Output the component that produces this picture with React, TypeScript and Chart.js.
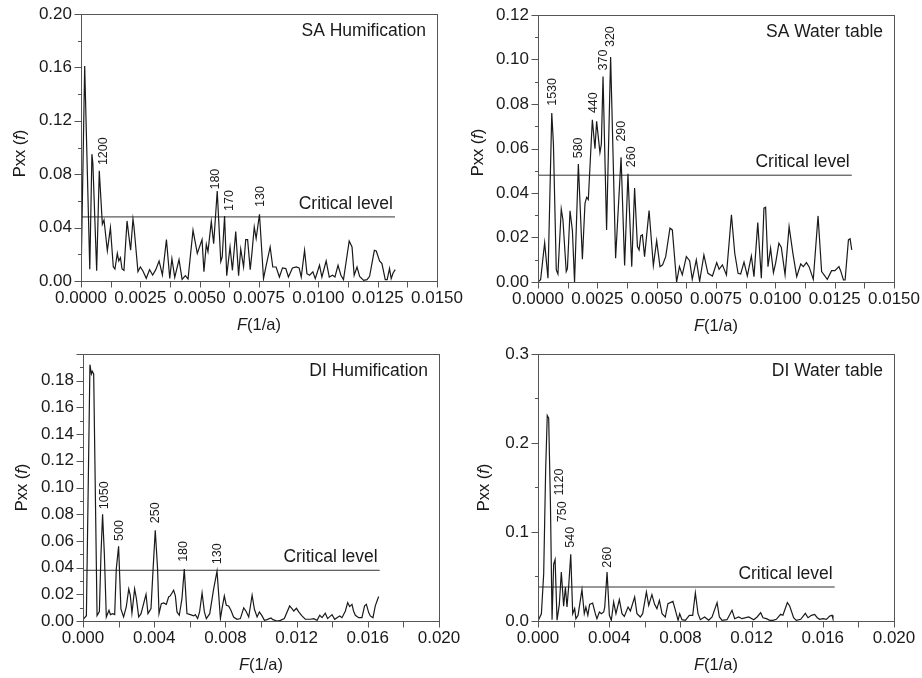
import React, { useEffect, useRef } from "react";
import { Chart, registerables } from "chart.js";

Chart.register(...registerables);

const FONT = "'Liberation Sans', Arial, Helvetica, sans-serif";

// ---------------- SA Humification ----------------
const saHumFreq = [
  0, 0.000155, 0.00037, 0.00046, 0.0005, 0.00066, 0.00077, 0.0009, 0.00097, 0.00111,
  0.00124, 0.00136, 0.00143, 0.00153, 0.00159, 0.00166, 0.00173, 0.00181, 0.00194, 0.00209,
  0.00219, 0.00223, 0.0024, 0.0025, 0.00261, 0.00275, 0.00289, 0.00302, 0.00315, 0.00329,
  0.00343, 0.0036, 0.00374, 0.00383, 0.00395, 0.00413, 0.00426, 0.0044, 0.00451, 0.00472,
  0.0049, 0.0051, 0.00518, 0.00528, 0.00535, 0.00549, 0.00559, 0.00574, 0.00589, 0.00595,
  0.00605, 0.00614, 0.00628, 0.00638, 0.00652, 0.00664, 0.00673, 0.00685, 0.00694, 0.00702,
  0.00713, 0.0072, 0.0073, 0.00738, 0.00752, 0.00769, 0.00779, 0.00797, 0.00808, 0.00822,
  0.00836, 0.00849, 0.00863, 0.00874, 0.00891, 0.00907, 0.00919, 0.00928, 0.00942, 0.00952,
  0.00963, 0.00977, 0.00987, 0.01005, 0.01015, 0.01033, 0.01046, 0.0106, 0.0107, 0.01083,
  0.01095, 0.01106, 0.0113, 0.01142, 0.01151, 0.01163, 0.01174, 0.01191, 0.01205, 0.01216,
  0.01236, 0.01244, 0.01258, 0.01268, 0.01282, 0.0129, 0.013, 0.01307, 0.01315, 0.01324,
];
const saHumPower = [
  0, 0.161, 0.0088, 0.095, 0.088, 0.0077, 0.0826, 0.0425, 0.0457, 0.0227,
  0.04, 0.0107, 0.009, 0.0207, 0.015, 0.0175, 0.009, 0.008, 0.045, 0.023,
  0.0464, 0.041, 0.007, 0.0105, 0.0075, 0.002, 0.0085, 0.0045, 0.0085, 0.015,
  0.0045, 0.031, 0.002, 0.0167, 0.0027, 0.016, 0.0012, 0.004, 0.0015, 0.038,
  0.0207, 0.031, 0.007, 0.0275, 0.022, 0.0445, 0.028, 0.0674, 0.0145, 0.018,
  0.0487, 0.004, 0.0255, 0.008, 0.037, 0.004, 0.024, 0.0105, 0.031, 0.031,
  0.0085, 0.0205, 0.0405, 0.0318, 0.05, 0.0018, 0.0105, 0.0255, 0.0105, 0.0105,
  0.003, 0.0098, 0.0093, 0.003, 0.0098, 0.0105, 0.0098, 0.003, 0.023, 0.0055,
  0.0043, 0.0068, 0.0018, 0.0118, 0.003, 0.015, 0.003, 0.0043, 0.003, 0.0118,
  0.0043, 0.001, 0.03, 0.0255, 0.0043, 0.0105, 0.0035, 0.0005, 0.001, 0.0035,
  0.023, 0.0225, 0.015, 0.013, 0.001, 0.001, 0.0093, 0.0018, 0.006, 0.0085,
];
const saHumPeakLabels = ["1200", "180", "170", "130"];
const saHumPeakFreq = [0.00094, 0.00569, 0.00624, 0.00755];
const saHumPeakPower = [0.0868, 0.0685, 0.0525, 0.0555];

// ---------------- SA Water table ----------------
const saWtFreq = [
  0, 0.00011, 0.00028, 0.00042, 0.00058, 0.00065, 0.00077, 0.00084, 0.00098, 0.00105,
  0.00119, 0.00124, 0.00135, 0.00145, 0.00154, 0.0017, 0.00187, 0.00198, 0.00205, 0.00212,
  0.00229, 0.0024, 0.00247, 0.00261, 0.00267, 0.00274, 0.00278, 0.00289, 0.00306, 0.00327,
  0.0035, 0.00365, 0.00379, 0.00395, 0.00407, 0.00419, 0.00426, 0.00433, 0.0044, 0.00449,
  0.00468, 0.00486, 0.005, 0.00514, 0.00525, 0.00538, 0.00556, 0.00566, 0.00584, 0.00596,
  0.00608, 0.00625, 0.00639, 0.0065, 0.00667, 0.00681, 0.00699, 0.00716, 0.00735, 0.00753,
  0.00763, 0.00777, 0.00794, 0.00815, 0.00829, 0.00843, 0.00854, 0.00868, 0.00882, 0.00899,
  0.0091, 0.00926, 0.00941, 0.00952, 0.00959, 0.00969, 0.0098, 0.00992, 0.01001, 0.01015,
  0.01025, 0.01041, 0.01058, 0.01074, 0.0109, 0.01107, 0.01118, 0.01131, 0.01142, 0.0116,
  0.0118, 0.01195, 0.01219, 0.01237, 0.01251, 0.01268, 0.01275, 0.01287, 0.01294, 0.01308,
  0.01315, 0.01322,
];
const saWtPower = [
  0, 0.001, 0.0177, 0.0017, 0.0759, 0.062, 0.0054, 0.0036, 0.0328, 0.028,
  0.0047, 0.006, 0.032, 0.023, 0.0, 0.053, 0.0102, 0.0354, 0.038, 0.037,
  0.0729, 0.0599, 0.0722, 0.0582, 0.062, 0.0924, 0.0924, 0.0234, 0.1011, 0.0107,
  0.0561, 0.0074, 0.0486, 0.0069, 0.0422, 0.0159, 0.0144, 0.0207, 0.0212, 0.0114,
  0.0321, 0.0074, 0.0186, 0.0069, 0.0077, 0.0114, 0.0242, 0.0234, 0.0, 0.0069,
  0.0032, 0.0114, 0.0096, 0.0012, 0.0099, 0.0003, 0.0122, 0.0039, 0.0027, 0.0087,
  0.0057, 0.0077, 0.0032, 0.0302, 0.0129, 0.0039, 0.0036, 0.0089, 0.0027, 0.0117,
  0.0024, 0.0267, 0.0017, 0.0332, 0.0336, 0.0069, 0.0152, 0.0042, 0.0084, 0.0174,
  0.0156, 0.0032, 0.0249, 0.0129, 0.0024, 0.0081, 0.0069, 0.0087, 0.0069, 0.0012,
  0.0297, 0.0047, 0.0012, 0.0051, 0.0051, 0.0069, 0.0051, 0.0009, 0.0009, 0.0189,
  0.0194, 0.0144,
];
const saWtPeakLabels = ["1530", "580", "440", "370", "320", "290", "260"];
const saWtPeakFreq = [0.0006, 0.0017, 0.00232, 0.00275, 0.00306, 0.00351, 0.00393];
const saWtPeakPower = [0.0792, 0.0556, 0.0759, 0.0951, 0.1056, 0.0631, 0.0516];

// ---------------- DI Humification ----------------
const diHumFreq = [
  0, 0.00019, 0.00039, 0.00047, 0.00052, 0.0006, 0.00079, 0.00092, 0.00101, 0.0011,
  0.0012, 0.00131, 0.00146, 0.00154, 0.00167, 0.00178, 0.00187, 0.002, 0.00213, 0.00228,
  0.00243, 0.00257, 0.00266, 0.00275, 0.0029, 0.003, 0.00313, 0.00326, 0.00354, 0.00365,
  0.00382, 0.00393, 0.00406, 0.00419, 0.00427, 0.0044, 0.00453, 0.00468, 0.00481, 0.0049,
  0.005, 0.00509, 0.00519, 0.00528, 0.00541, 0.00556, 0.00569, 0.00584, 0.00603, 0.00622,
  0.00631, 0.00644, 0.00655, 0.00669, 0.00682, 0.00693, 0.00712, 0.00734, 0.00753, 0.00772,
  0.00781, 0.00794, 0.00805, 0.00818, 0.00831, 0.00846, 0.00865, 0.00884, 0.00903, 0.00916,
  0.00931, 0.0095, 0.00963, 0.00978, 0.00991, 0.01006, 0.01019, 0.01034, 0.01056, 0.01067,
  0.0109, 0.01109, 0.01131, 0.01161, 0.01174, 0.01184, 0.01199, 0.01212, 0.0123, 0.01249,
  0.01277, 0.01296, 0.01315, 0.0133, 0.01343, 0.01361, 0.01374, 0.01399, 0.01414, 0.01427,
  0.01442, 0.01455, 0.01474, 0.01487, 0.01498, 0.01511, 0.0152, 0.0153, 0.01549, 0.01567,
  0.01582, 0.01592, 0.01605, 0.01614, 0.01629, 0.01642, 0.01661,
];
const diHumPower = [
  0.001, 0.004, 0.192, 0.185, 0.187, 0.185, 0.004, 0.007, 0.05, 0.08,
  0.05, 0.003, 0.008, 0.0048, 0.0055, 0.0048, 0.039, 0.056, 0.009, 0.003,
  0.0105, 0.024, 0.019, 0.006, 0.024, 0.0168, 0.003, 0.0055, 0.02, 0.0055,
  0.0093, 0.037, 0.068, 0.039, 0.0055, 0.013, 0.0135, 0.0125, 0.018, 0.0188,
  0.021, 0.023, 0.0188, 0.0068, 0.0043, 0.0168, 0.039, 0.0055, 0.0048, 0.0038,
  0.0048, 0.0018, 0.0068, 0.021, 0.0068, 0.0018, 0.0055, 0.024, 0.0373, 0.0018,
  0.0093, 0.0188, 0.0118, 0.0113, 0.008, 0.003, 0.0013, 0.0018, 0.0098, 0.0073,
  0.003, 0.0193, 0.0088, 0.003, 0.0068, 0.0038, 0.0005, 0.001, 0.0023, 0.001,
  0.0, 0.0005, 0.0018, 0.0113, 0.0093, 0.0075, 0.0095, 0.0068, 0.0038, 0.0013,
  0.0013, 0.0018, 0.0005, 0.0043, 0.0025, 0.0058, 0.0018, 0.0048, 0.0013, 0.0025,
  0.0038, 0.0025, 0.0075, 0.0138, 0.0108, 0.0125, 0.0075, 0.0043, 0.0025, 0.0025,
  0.0113, 0.0125, 0.0063, 0.0038, 0.0025, 0.0113, 0.0183,
];
const diHumPeakLabels = ["1050", "500", "250", "180", "130"];
const diHumPeakFreq = [0.00122, 0.00204, 0.00406, 0.00566, 0.00757];
const diHumPeakPower = [0.0838, 0.06, 0.0733, 0.0443, 0.0425];

// ---------------- DI Water table ----------------
const diWtFreq = [
  0, 0.00019, 0.00032, 0.00043, 0.00052, 0.0006, 0.0007, 0.00079, 0.00088, 0.00096,
  0.00107, 0.0012, 0.00131, 0.00144, 0.00154, 0.00163, 0.00172, 0.00184, 0.00195, 0.00206,
  0.00213, 0.00225, 0.00247, 0.0026, 0.00269, 0.0028, 0.0029, 0.00307, 0.00322, 0.00331,
  0.00345, 0.00356, 0.00369, 0.00375, 0.00388, 0.00401, 0.00412, 0.00425, 0.00438, 0.00457,
  0.00472, 0.00485, 0.00506, 0.00519, 0.00543, 0.00556, 0.00575, 0.00588, 0.00609, 0.00622,
  0.0064, 0.00655, 0.00668, 0.00682, 0.00697, 0.00715, 0.0073, 0.00758, 0.00772, 0.00787,
  0.00796, 0.00809, 0.00828, 0.0085, 0.00869, 0.00884, 0.00899, 0.00912, 0.00936, 0.00959,
  0.00978, 0.01006, 0.01019, 0.01034, 0.01062, 0.0109, 0.01105, 0.01127, 0.01146, 0.01184,
  0.01212, 0.01231, 0.01251, 0.01264, 0.01283, 0.01302, 0.0132, 0.01339, 0.01363, 0.01376,
  0.01401, 0.01414, 0.01436, 0.01451, 0.01476, 0.01502, 0.01517, 0.01536, 0.01554, 0.01569,
  0.01582, 0.01601, 0.0162, 0.01639, 0.01652, 0.01657,
];
const diWtPower = [
  0, 0.008, 0.053, 0.17, 0.231, 0.228, 0.13, 0.0015, 0.064, 0.069,
  0.0008, 0.019, 0.055, 0.0165, 0.038, 0.0157, 0.038, 0.075, 0.0082, 0.014,
  0.0026, 0.0064, 0.0352, 0.0082, 0.0157, 0.0064, 0.0187, 0.0202, 0.0082, 0.0026,
  0.0101, 0.0082, 0.0101, 0.0157, 0.055, 0.0064, 0.0008, 0.0213, 0.0082, 0.024,
  0.0082, 0.0052, 0.0157, 0.0112, 0.027, 0.0082, 0.0045, 0.0082, 0.0326, 0.0176,
  0.0296, 0.0187, 0.0139, 0.0232, 0.0082, 0.0045, 0.0195, 0.0221, 0.012, 0.0008,
  0.0082, 0.0015, 0.0008, 0.0064, 0.0064, 0.0315, 0.0082, 0.0015, 0.0045, 0.0008,
  0.0045, 0.0206, 0.0045, 0.0008, 0.0015, 0.012, 0.0026, 0.0045, 0.0026, 0.0045,
  0.0015, 0.0045, 0.0094, 0.0037, 0.0026, 0.0007, 0.0007, 0.0019, 0.0075, 0.0064,
  0.0206, 0.0169, 0.0037, 0.0007, 0.0019, 0.0086, 0.0037, 0.0064, 0.0075, 0.0037,
  0.0019, 0.0026, 0.0019, 0.0056, 0.0064, 0.0026,
];
const diWtPeakLabels = ["1120", "750", "540", "260"];
const diWtPeakFreq = [0.00122, 0.0014, 0.00182, 0.00388];
const diWtPeakPower = [0.141, 0.111, 0.0824, 0.0599];

// Critical levels [level, last frequency of the line]
const criticalLevels = [0.048, 0.048, 0.038, 0.0382];
const criticalEnds = [0.01323, 0.01322, 0.01667, 0.01667];
const panelTitles = ["SA Humification", "SA Water table", "DI Humification", "DI Water table"];

type PanelSpec = {
  x: number; y: number; w: number; h: number;
  axisLeft: number; axisBottom: number; padTop: number; padRight: number;
  xMax: number; xStep: number; xMinor: number; xDec: number;
  yMax: number; yStep: number; yMinor: number; yDec: number; hideTop: boolean;
  yTitleOffset: number; yTitleShift: number;
  freq: number[]; power: number[];
  labels: string[]; labelFreq: number[]; labelPower: number[];
  crit: number; critEnd: number; title: string;
};

const panels: PanelSpec[] = [
  {
    x: 0, y: 0, w: 472, h: 339, axisLeft: 81, axisBottom: 58, padTop: 14, padRight: 35,
    xMax: 0.015, xStep: 0.0025, xMinor: 0.00125, xDec: 4,
    yMax: 0.2, yStep: 0.04, yMinor: 0.02, yDec: 2, hideTop: false,
    yTitleOffset: 56, yTitleShift: 6,
    freq: saHumFreq, power: saHumPower,
    labels: saHumPeakLabels, labelFreq: saHumPeakFreq, labelPower: saHumPeakPower,
    crit: criticalLevels[0], critEnd: criticalEnds[0], title: panelTitles[0],
  },
  {
    x: 461, y: 0, w: 461, h: 339, axisLeft: 77, axisBottom: 57, padTop: 15, padRight: 28,
    xMax: 0.015, xStep: 0.0025, xMinor: 0.00125, xDec: 4,
    yMax: 0.12, yStep: 0.02, yMinor: 0.01, yDec: 2, hideTop: false,
    yTitleOffset: 55, yTitleShift: 4,
    freq: saWtFreq, power: saWtPower,
    labels: saWtPeakLabels, labelFreq: saWtPeakFreq, labelPower: saWtPeakPower,
    crit: criticalLevels[1], critEnd: criticalEnds[1], title: panelTitles[1],
  },
  {
    x: 0, y: 339, w: 472, h: 339, axisLeft: 83, axisBottom: 57, padTop: 15, padRight: 33,
    xMax: 0.02, xStep: 0.004, xMinor: 0.002, xDec: 3,
    yMax: 0.2, yStep: 0.02, yMinor: 0.01, yDec: 2, hideTop: true,
    yTitleOffset: 56, yTitleShift: 0,
    freq: diHumFreq, power: diHumPower,
    labels: diHumPeakLabels, labelFreq: diHumPeakFreq, labelPower: diHumPeakPower,
    crit: criticalLevels[2], critEnd: criticalEnds[2], title: panelTitles[2],
  },
  {
    x: 461, y: 339, w: 461, h: 339, axisLeft: 77, axisBottom: 57, padTop: 15, padRight: 28,
    xMax: 0.02, xStep: 0.004, xMinor: 0.002, xDec: 3,
    yMax: 0.3, yStep: 0.1, yMinor: 0.05, yDec: 1, hideTop: false,
    yTitleOffset: 49, yTitleShift: 0,
    freq: diWtFreq, power: diWtPower,
    labels: diWtPeakLabels, labelFreq: diWtPeakFreq, labelPower: diWtPeakPower,
    crit: criticalLevels[3], critEnd: criticalEnds[3], title: panelTitles[3],
  },
];

function drawParts(ctx: CanvasRenderingContext2D, parts: [string, boolean][], size: number) {
  let total = 0;
  for (const [t, it] of parts) {
    ctx.font = `${it ? "italic " : ""}${size}px ${FONT}`;
    total += ctx.measureText(t).width;
  }
  let cx = -total / 2;
  for (const [t, it] of parts) {
    ctx.font = `${it ? "italic " : ""}${size}px ${FONT}`;
    ctx.fillText(t, cx, 0);
    cx += ctx.measureText(t).width;
  }
}

function makeDecor(p: PanelSpec) {
  return {
    id: "decor",
    afterDraw(chart: any) {
      const ctx: CanvasRenderingContext2D = chart.ctx;
      const { left, right, top, bottom } = chart.chartArea;
      const xs = chart.scales.x;
      const ys = chart.scales.y;
      ctx.save();
      // frame
      ctx.strokeStyle = "#555";
      ctx.lineWidth = 1;
      ctx.strokeRect(Math.round(left) + 0.5, Math.round(top) + 0.5, Math.round(right - left), Math.round(bottom - top));
      // x ticks
      ctx.beginPath();
      const nx = Math.round(p.xMax / p.xMinor);
      for (let i = 0; i <= nx; i++) {
        const px = Math.round(xs.getPixelForValue(i * p.xMinor)) + 0.5;
        ctx.moveTo(px, Math.round(bottom) + 0.5);
        ctx.lineTo(px, Math.round(bottom) + 6.5);
      }
      // y ticks
      const ny = Math.round(p.yMax / p.yMinor);
      const ratio = Math.round(p.yStep / p.yMinor);
      for (let i = 0; i <= ny; i++) {
        const py = Math.round(ys.getPixelForValue(i * p.yMinor)) + 0.5;
        const len = i % ratio === 0 ? 7 : 3.5;
        ctx.moveTo(Math.round(left) + 0.5, py);
        ctx.lineTo(Math.round(left) + 0.5 - len, py);
      }
      ctx.stroke();

      ctx.fillStyle = "#1a1a1a";
      // panel title
      ctx.font = `17.5px ${FONT}`;
      ctx.textAlign = "right";
      ctx.textBaseline = "alphabetic";
      ctx.fillText(p.title, right - 11, top + 22);
      // critical level text
      ctx.fillText("Critical level", xs.getPixelForValue(p.critEnd) - 2, ys.getPixelForValue(p.crit) - 8);
      // peak labels
      ctx.font = `12.5px ${FONT}`;
      ctx.textAlign = "left";
      ctx.textBaseline = "middle";
      p.labels.forEach((lab, i) => {
        ctx.save();
        ctx.translate(xs.getPixelForValue(p.labelFreq[i]), ys.getPixelForValue(p.labelPower[i]));
        ctx.rotate(-Math.PI / 2);
        ctx.fillText(lab, 0, 0);
        ctx.restore();
      });
      // axis titles
      ctx.textAlign = "left";
      ctx.textBaseline = "alphabetic";
      ctx.save();
      ctx.translate((left + right) / 2, bottom + 49);
      drawParts(ctx, [["F", true], ["(1/a)", false]], 16.5);
      ctx.restore();
      ctx.save();
      ctx.translate(left - p.yTitleOffset, (top + bottom) / 2 + p.yTitleShift);
      ctx.rotate(-Math.PI / 2);
      drawParts(ctx, [["Pxx (", false], ["f", true], [")", false]], 16.5);
      ctx.restore();
      ctx.restore();
    },
  };
}

function SpectrumPanel({ p }: { p: PanelSpec }) {
  const ref = useRef<HTMLCanvasElement>(null);
  useEffect(() => {
    const canvas = ref.current;
    if (!canvas) return;
    const points = p.freq.map((f, i) => ({ x: f, y: p.power[i] }));
    const critLine = [
      { x: 0, y: p.crit },
      { x: p.critEnd, y: p.crit },
    ];
    const chart = new Chart(canvas, {
      type: "line",
      data: {
        datasets: [
          { data: points, borderColor: "#1a1a1a", borderWidth: 1.2, pointRadius: 0, tension: 0, fill: false },
          { data: critLine, borderColor: "#333", borderWidth: 1, pointRadius: 0, fill: false },
        ],
      },
      options: {
        responsive: false,
        maintainAspectRatio: false,
        animation: false,
        parsing: false as any,
        layout: { padding: { left: 0, top: p.padTop, right: p.padRight, bottom: 0 } },
        plugins: { legend: { display: false }, tooltip: { enabled: false } },
        scales: {
          x: {
            type: "linear",
            min: 0,
            max: p.xMax,
            grid: { display: false, drawTicks: false },
            border: { display: false },
            ticks: {
              stepSize: p.xStep,
              autoSkip: false,
              maxRotation: 0,
              minRotation: 0,
              padding: 7,
              color: "#1a1a1a",
              font: { size: 17, family: FONT },
              callback: (v: any) => Number(v).toFixed(p.xDec),
            },
            afterFit: (s: any) => {
              s.height = p.axisBottom;
              s.paddingLeft = 0;
              s.paddingRight = 0;
            },
          },
          y: {
            type: "linear",
            min: 0,
            max: p.yMax,
            grid: { display: false, drawTicks: false },
            border: { display: false },
            ticks: {
              stepSize: p.yStep,
              autoSkip: false,
              padding: 9,
              color: "#1a1a1a",
              font: { size: 17, family: FONT },
              callback: (v: any) =>
                p.hideTop && Math.abs(Number(v) - p.yMax) < 1e-9 ? "" : Number(v).toFixed(p.yDec),
            },
            afterFit: (s: any) => {
              s.width = p.axisLeft;
              s.paddingTop = 0;
              s.paddingBottom = 0;
            },
          },
        },
      } as any,
      plugins: [makeDecor(p)],
    });
    return () => chart.destroy();
  }, [p]);
  return (
    <canvas
      ref={ref}
      width={p.w}
      height={p.h}
      style={{ position: "absolute", left: p.x, top: p.y, width: p.w, height: p.h }}
    />
  );
}

export default function App() {
  return (
    <div style={{ position: "absolute", left: 0, top: 0, width: 922, height: 678, background: "#fff" }}>
      {panels.map((p, i) => (
        <SpectrumPanel key={i} p={p} />
      ))}
    </div>
  );
}
